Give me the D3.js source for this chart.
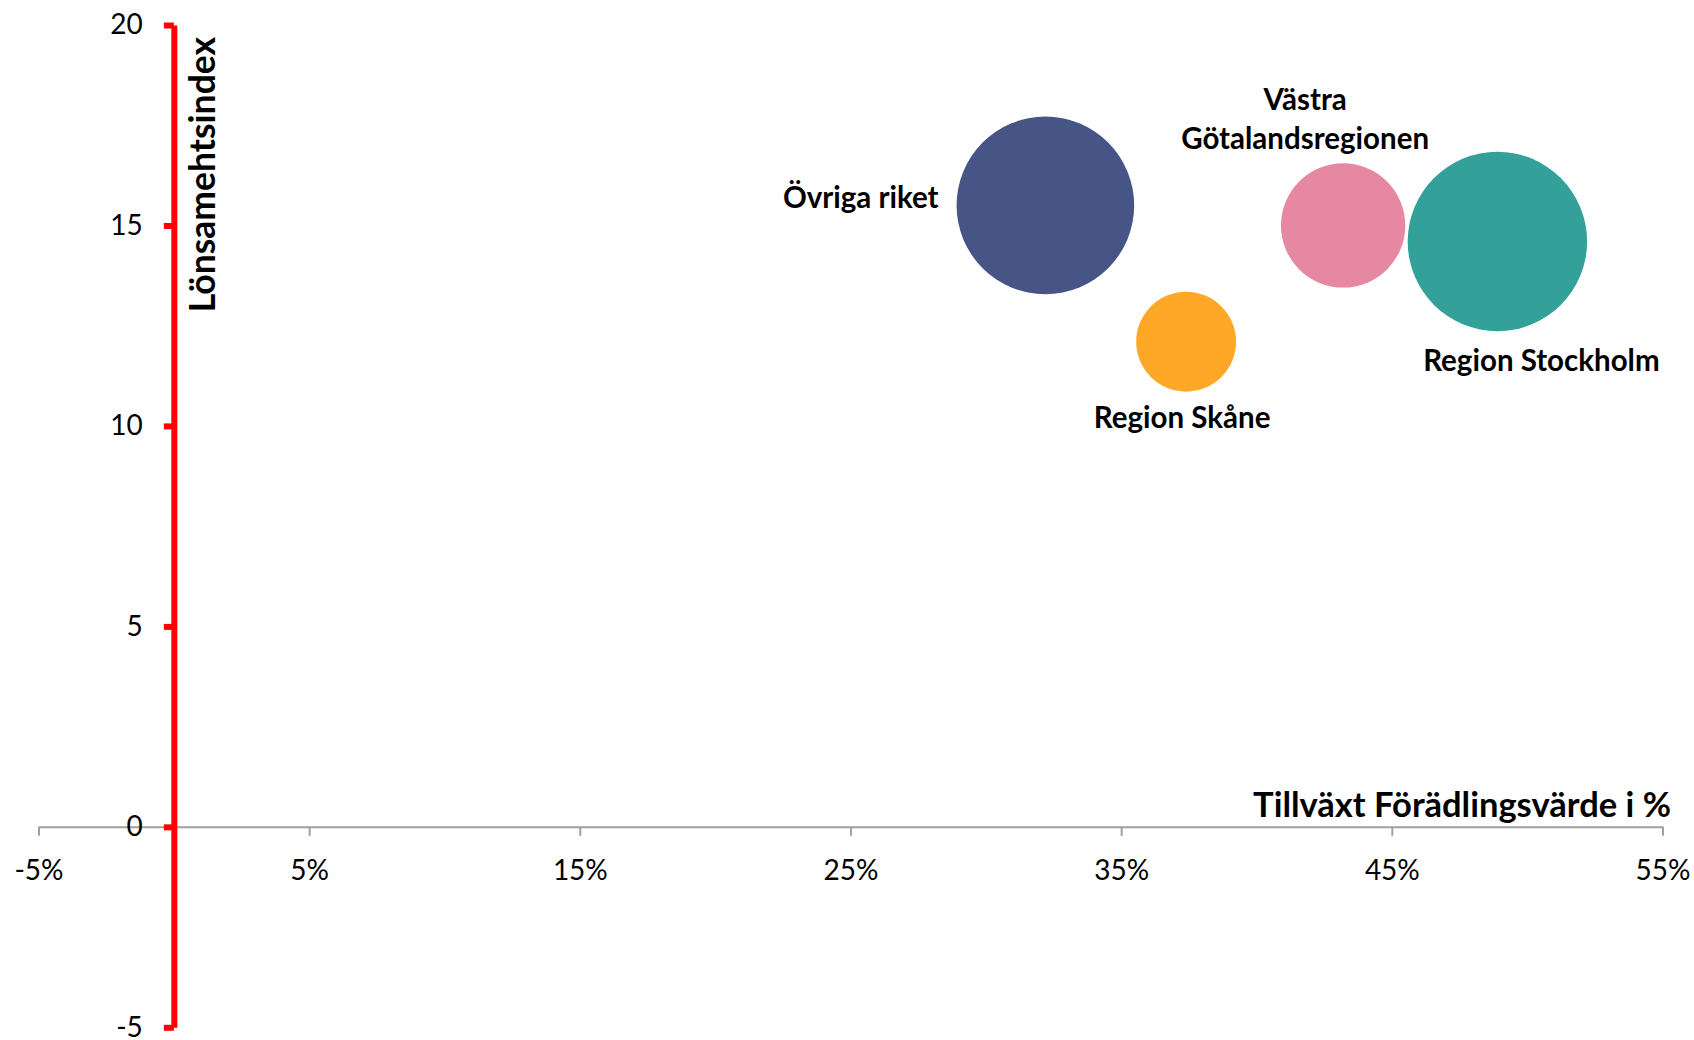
<!DOCTYPE html>
<html>
<head>
<meta charset="utf-8">
<script src="https://cdn.jsdelivr.net/npm/d3@7"></script>
<style>
  html, body { margin: 0; padding: 0; background: #fff; }
  svg { display: block; }
  text { font-family: Lato, "Open Sans", sans-serif; fill: #000; }
</style>
</head>
<body>
<svg id="chart" width="1694" height="1040"></svg>
<script>
// ---- data ----
const regions = ["Övriga riket", "Region Skåne", "Västra Götalandsregionen", "Region Stockholm"];
const growthPct = [32.2, 37.4, 43.2, 48.9];        // Tillväxt Förädlingsvärde i %
const profitIndex = [15.5, 12.1, 15.0, 14.6];      // Lönsamhetsindex
const bubbleSize = [98, 31, 48, 100];
const colors = ["#475586", "#FFA726", "#E688A2", "#33A19A"];
const xTicks = [-5, 5, 15, 25, 35, 45, 55];
const yTicks = [-5, 0, 5, 10, 15, 20];
const xTitle = "Tillväxt Förädlingsvärde i %";
const yTitle = "Lönsamehtsindex";

const svg = d3.select("#chart");
const x = d3.scaleLinear().domain([-5, 55]).range([38.5, 1662.5]);
const y = d3.scaleLinear().domain([-5, 20]).range([1027.3, 25]);
const r = d3.scaleSqrt().domain([0, 100]).range([0, 89.7]);

// X axis (gray) at y = 0
const xAxis = svg.append("g")
  .attr("transform", `translate(0,${y(0)})`)
  .call(d3.axisBottom(x).tickValues(xTicks).tickSize(9).tickSizeOuter(0).tickPadding(24)
        .tickFormat(d => String(d) + "%"));
xAxis.select(".domain").attr("stroke", "#A0A0A0").attr("stroke-width", 2);
xAxis.selectAll(".tick line").attr("stroke", "#A0A0A0").attr("stroke-width", 2);
xAxis.selectAll(".tick text").attr("font-size", 28).attr("font-family", "Lato, sans-serif").attr("fill", "#000");

// Y axis (red) at x = 0
const yAxis = svg.append("g")
  .attr("transform", `translate(${x(0)},0)`)
  .call(d3.axisLeft(y).tickValues(yTicks).tickSize(10).tickSizeOuter(0).tickPadding(21)
        .tickFormat(d => String(d)));
yAxis.select(".domain").attr("stroke", "#FF0000").attr("stroke-width", 6);
yAxis.selectAll(".tick line").attr("stroke", "#FF0000").attr("stroke-width", 6);
yAxis.selectAll(".tick text").attr("font-size", 28).attr("font-family", "Lato, sans-serif").attr("fill", "#000");

// Axis titles
svg.append("text")
  .attr("x", 1671).attr("y", 817)
  .attr("text-anchor", "end")
  .attr("font-weight", "bold").attr("font-size", 34.5)
  .text(xTitle);

svg.append("text")
  .attr("transform", `translate(215,37) rotate(-90)`)
  .attr("text-anchor", "end")
  .attr("font-weight", "bold").attr("font-size", 35.5)
  .text(yTitle);

// Bubbles
const data = regions.map((name, i) => ({
  name, gx: growthPct[i], py: profitIndex[i], s: bubbleSize[i], c: colors[i]
}));
svg.append("g").selectAll("circle")
  .data(data).join("circle")
  .attr("cx", d => x(d.gx))
  .attr("cy", d => y(d.py))
  .attr("r", d => r(d.s))
  .attr("fill", d => d.c);

// Data labels
const lab = svg.append("g").attr("font-weight", "bold").attr("font-size", 29.5);
// Övriga riket - left
{
  const d = data[0];
  lab.append("text")
    .attr("x", x(d.gx) - r(d.s) - 18).attr("y", y(d.py) + 2.5)
    .attr("text-anchor", "end").text(d.name);
}
// Region Skåne - below
{
  const d = data[1];
  lab.append("text")
    .attr("x", x(d.gx) - 4).attr("y", y(d.py) + r(d.s) + 36.6)
    .attr("text-anchor", "middle").text(d.name);
}
// Västra Götalandsregionen - above, two lines
{
  const d = data[2];
  const t = lab.append("text").attr("text-anchor", "middle");
  const cx = x(d.gx) - 38;
  const top = y(d.py) - r(d.s);
  t.append("tspan").attr("x", cx).attr("y", top - 53).text("Västra");
  t.append("tspan").attr("x", cx).attr("y", top - 14).text("Götalandsregionen");
}
// Region Stockholm - below (shifted right)
{
  const d = data[3];
  lab.append("text")
    .attr("x", x(d.gx) + 44).attr("y", y(d.py) + r(d.s) + 39.5)
    .attr("text-anchor", "middle").text(d.name);
}
</script>
</body>
</html>
